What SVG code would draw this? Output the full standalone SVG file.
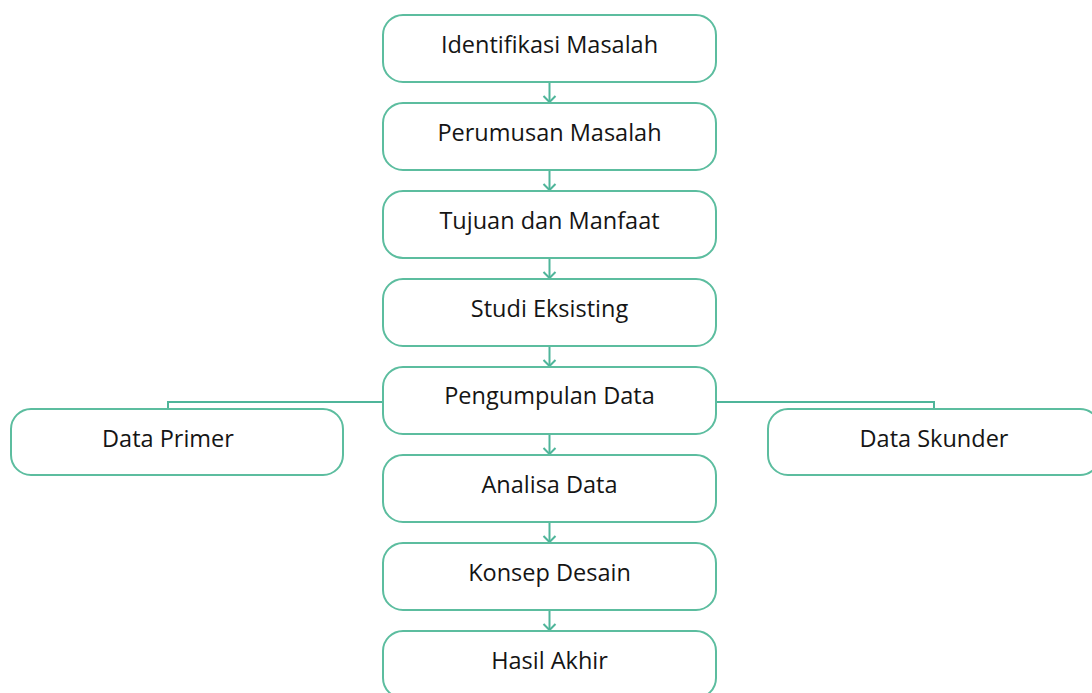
<svg xmlns="http://www.w3.org/2000/svg" width="1092" height="693" viewBox="0 0 1092 693">
<defs>
<style>
.box{fill:#ffffff;stroke:#5cbd9f;stroke-width:2}
.lbl{font-family:"Open Sans","Noto Sans",sans-serif;font-size:23.5px;fill:#151515;text-anchor:middle}
.ln{fill:none;stroke:#4fb59a;stroke-width:2}
</style>
</defs>
<rect width="1092" height="693" fill="#ffffff"/>
<g id="connectors">
<line class="ln" x1="549.5" y1="82" x2="549.5" y2="102"/>
<path class="ln" d="M543.5,96 L549.5,102 L555.5,96"/>
<line class="ln" x1="549.5" y1="170" x2="549.5" y2="190"/>
<path class="ln" d="M543.5,184 L549.5,190 L555.5,184"/>
<line class="ln" x1="549.5" y1="258" x2="549.5" y2="278"/>
<path class="ln" d="M543.5,272 L549.5,278 L555.5,272"/>
<line class="ln" x1="549.5" y1="346" x2="549.5" y2="366"/>
<path class="ln" d="M543.5,360 L549.5,366 L555.5,360"/>
<line class="ln" x1="549.5" y1="434" x2="549.5" y2="454"/>
<path class="ln" d="M543.5,448 L549.5,454 L555.5,448"/>
<line class="ln" x1="549.5" y1="522" x2="549.5" y2="542"/>
<path class="ln" d="M543.5,536 L549.5,542 L555.5,536"/>
<line class="ln" x1="549.5" y1="610" x2="549.5" y2="630"/>
<path class="ln" d="M543.5,624 L549.5,630 L555.5,624"/>
<path class="ln" d="M383,402 L168,402 L168,409"/>
<path class="ln" d="M716,402 L934,402 L934,409"/>
</g>
<g id="n1"><rect class="box" x="383" y="15" width="333" height="67" rx="20"/><text class="lbl" x="549.5" y="53">Identifikasi Masalah</text></g>
<g id="n2"><rect class="box" x="383" y="103" width="333" height="67" rx="20"/><text class="lbl" x="549.5" y="141">Perumusan Masalah</text></g>
<g id="n3"><rect class="box" x="383" y="191" width="333" height="67" rx="20"/><text class="lbl" x="549.5" y="229">Tujuan dan Manfaat</text></g>
<g id="n4"><rect class="box" x="383" y="279" width="333" height="67" rx="20"/><text class="lbl" x="549.5" y="317">Studi Eksisting</text></g>
<g id="n5"><rect class="box" x="383" y="367" width="333" height="67" rx="20"/><text class="lbl" x="549.5" y="404">Pengumpulan Data</text></g>
<g id="n6"><rect class="box" x="383" y="455" width="333" height="67" rx="20"/><text class="lbl" x="549.5" y="493">Analisa Data</text></g>
<g id="n7"><rect class="box" x="383" y="543" width="333" height="67" rx="20"/><text class="lbl" x="549.5" y="581">Konsep Desain</text></g>
<g id="n8"><rect class="box" x="383" y="631" width="333" height="67" rx="20"/><text class="lbl" x="549.5" y="669">Hasil Akhir</text></g>
<g id="n9"><rect class="box" x="11" y="409" width="332" height="66" rx="20"/><text class="lbl" x="168" y="447">Data Primer</text></g>
<g id="n10"><rect class="box" x="768" y="409" width="332" height="66" rx="20"/><text class="lbl" x="934" y="447">Data Skunder</text></g>
</svg>
